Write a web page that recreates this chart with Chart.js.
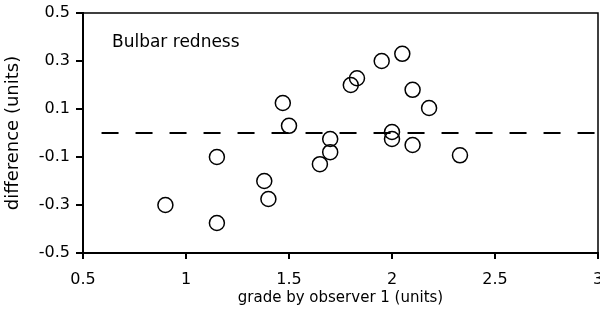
<!DOCTYPE html>
<html>
<head>
<meta charset="utf-8">
<script src="https://cdn.jsdelivr.net/npm/chart.js@4"></script>
<style>
  body { margin: 0; background: #fff; }
  #wrap { width: 600px; height: 312px; }
</style>
</head>
<body>
<div id="wrap"><canvas id="scatterChart" width="600" height="312"></canvas></div>
<script>
const ctx = document.querySelector('#scatterChart').getContext('2d');

// data
const gradeObs1 = [0.9, 1.15, 1.15, 1.38, 1.4, 1.47, 1.5, 1.65, 1.7, 1.7, 1.8, 1.83, 1.95, 2.05, 2.0, 2.0, 2.1, 2.1, 2.18, 2.33];
const difference = [-0.3, -0.1, -0.375, -0.2, -0.275, 0.125, 0.03, -0.13, -0.08, -0.025, 0.2, 0.228, 0.3, 0.33, 0.004, -0.025, 0.18, -0.05, 0.104, -0.093];
const zeroLineX = [0.59, 3];
const zeroLineY = [0, 0];
const xTicks = [0.5, 1, 1.5, 2, 2.5, 3];
const yTicks = [-0.5, -0.3, -0.1, 0.1, 0.3, 0.5];
const panelLabel = 'Bulbar redness';

const points = gradeObs1.map((x, i) => ({ x: x, y: difference[i] }));
const zeroLine = zeroLineX.map((x, i) => ({ x: x, y: zeroLineY[i] }));

// top/right frame and the panel label
const frame = {
    id: 'frame',
    afterDraw(chart) {
        const { ctx, chartArea } = chart;
        ctx.save();
        ctx.strokeStyle = '#000';
        ctx.lineWidth = 1.5;
        ctx.beginPath();
        ctx.moveTo(chartArea.left, chartArea.top);
        ctx.lineTo(chartArea.right, chartArea.top);
        ctx.lineTo(chartArea.right, chartArea.bottom);
        ctx.stroke();
        ctx.fillStyle = '#000';
        ctx.font = '17px "DejaVu Sans"';
        ctx.textBaseline = 'alphabetic';
        ctx.fillText(panelLabel, chartArea.left + 29, chartArea.top + 34);
        ctx.restore();
    }
};

const fixBox = (w, h) => (scale) => {
    if (w) scale.width = w;
    if (h) scale.height = h;
    scale.paddingLeft = 0;
    scale.paddingRight = 0;
    scale.paddingTop = 0;
    scale.paddingBottom = 0;
};

let scatterChart = new Chart(ctx, {
    type: 'scatter',
    data: {
        datasets: [
            {
                type: 'line',
                data: zeroLine,
                borderColor: '#000',
                borderWidth: 2,
                borderDash: [17, 17],
                pointRadius: 0,
                fill: false
            },
            {
                data: points,
                pointStyle: 'circle',
                pointRadius: 7.5,
                pointHoverRadius: 7.5,
                borderWidth: 1.5,
                borderColor: '#000',
                backgroundColor: 'rgba(0,0,0,0)'
            }
        ]
    },
    options: {
        responsive: false,
        animation: false,
        layout: {
            autoPadding: false,
            padding: { left: 0, right: 2, top: 13, bottom: 0 }
        },
        plugins: {
            legend: { display: false },
            tooltip: { enabled: false }
        },
        scales: {
            x: {
                type: 'linear',
                min: 0.5,
                max: 3,
                afterBuildTicks: (scale) => { scale.ticks = xTicks.map(v => ({ value: v })); },
                afterFit: fixBox(0, 59),
                border: { display: true, color: '#000', width: 2 },
                grid: { drawOnChartArea: false, drawTicks: true, tickLength: 6, color: '#000', lineWidth: 2 },
                ticks: {
                    color: '#000',
                    padding: 11,
                    maxRotation: 0,
                    autoSkip: false,
                    font: { family: 'DejaVu Sans', size: 16 },
                    callback: (v) => String(v)
                },
                title: {
                    display: true,
                    text: 'grade by observer 1 (units)',
                    color: '#000',
                    padding: { top: 0, bottom: 5 },
                    font: { family: 'DejaVu Sans', size: 15 }
                }
            },
            y: {
                type: 'linear',
                min: -0.5,
                max: 0.5,
                afterBuildTicks: (scale) => { scale.ticks = yTicks.map(v => ({ value: v })); },
                afterFit: fixBox(83, 0),
                border: { display: true, color: '#000', width: 2 },
                grid: { drawOnChartArea: false, drawTicks: true, tickLength: 7, color: '#000', lineWidth: 2 },
                ticks: {
                    color: '#000',
                    padding: 6,
                    autoSkip: false,
                    font: { family: 'DejaVu Sans', size: 16 },
                    callback: (v) => String(v)
                },
                title: {
                    display: true,
                    text: 'difference (units)',
                    color: '#000',
                    padding: { top: 3, bottom: 0 },
                    font: { family: 'DejaVu Sans', size: 18 }
                }
            }
        }
    },
    plugins: [frame]
});
</script>
</body>
</html>
